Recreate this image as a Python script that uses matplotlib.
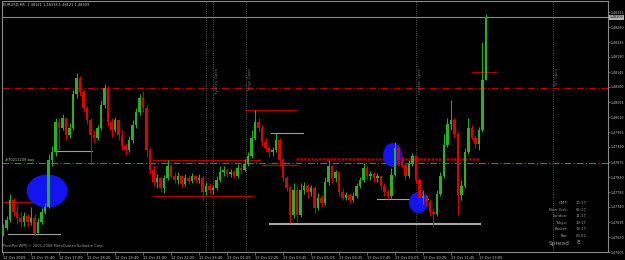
import numpy as np
import matplotlib.pyplot as plt
from matplotlib.patches import Ellipse

# EURUSD - velas (cada vela ~10 min)
apertura_inicial = 1.47656
cierres = [1.47677, 1.47701, 1.47761, 1.47725, 1.47707, 1.47695, 1.47713, 1.47695, 1.47707, 1.47662,
           1.47695, 1.47725, 1.47740, 1.47881, 1.47905, 1.47995, 1.47977, 1.48007, 1.47956, 1.47977,
           1.48079, 1.48127, 1.48085, 1.48037, 1.48001, 1.47956, 1.47947, 1.47977, 1.48046, 1.48097,
           1.47995, 1.47971, 1.48001, 1.47956, 1.47923, 1.47911, 1.47941, 1.47986, 1.48025, 1.48067,
           1.48037, 1.47911, 1.47851, 1.47815, 1.47827, 1.47797, 1.47827, 1.47863, 1.47833, 1.47821,
           1.47833, 1.47809, 1.47827, 1.47818, 1.47833, 1.47821, 1.47827, 1.47785, 1.47803, 1.47791,
           1.47797, 1.47821, 1.47845, 1.47851, 1.47839, 1.47845, 1.47833, 1.47857, 1.47851, 1.47869,
           1.47893, 1.47947, 1.47995, 1.47977, 1.47935, 1.47917, 1.47905, 1.47911, 1.47941, 1.47881,
           1.47827, 1.47797, 1.47716, 1.47791, 1.47716, 1.47791, 1.47803, 1.47785, 1.47797, 1.47737,
           1.47767, 1.47752, 1.47815, 1.47863, 1.47827, 1.47845, 1.47785, 1.47767, 1.47776, 1.47761,
           1.47773, 1.47803, 1.47821, 1.47857, 1.47833, 1.47839, 1.47827, 1.47833, 1.47803, 1.47785,
           1.47773, 1.47836, 1.47917, 1.47881, 1.47866, 1.47833, 1.47869, 1.47893, 1.47821, 1.47767,
           1.47773, 1.47755, 1.47725, 1.47719, 1.47779, 1.47833, 1.47926, 1.47989, 1.48001, 1.47959,
           1.47776, 1.47803, 1.47905, 1.47977, 1.47947, 1.47929, 1.47971, 1.48121, 1.48309]
maximos = [1.47689, 1.47713, 1.47779, 1.47767, 1.47743, 1.47725, 1.47725, 1.47719, 1.47740, 1.47719,
           1.47707, 1.47737, 1.47752, 1.47899, 1.47923, 1.48007, 1.48007, 1.48019, 1.47995, 1.47992,
           1.48091, 1.48142, 1.48133, 1.48091, 1.48043, 1.48007, 1.47971, 1.47986, 1.48061, 1.48109,
           1.48103, 1.48007, 1.48010, 1.48001, 1.47971, 1.47932, 1.47953, 1.48001, 1.48037, 1.48079,
           1.48088, 1.48046, 1.47917, 1.47866, 1.47839, 1.47833, 1.47836, 1.47881, 1.47869, 1.47845,
           1.47845, 1.47836, 1.47839, 1.47836, 1.47842, 1.47836, 1.47839, 1.47836, 1.47815, 1.47812,
           1.47806, 1.47833, 1.47863, 1.47863, 1.47857, 1.47854, 1.47851, 1.47869, 1.47869, 1.47884,
           1.47905, 1.47971, 1.48031, 1.48007, 1.47986, 1.47947, 1.47923, 1.47920, 1.47962, 1.47947,
           1.47887, 1.47833, 1.47803, 1.47812, 1.47803, 1.47812, 1.47815, 1.47809, 1.47806, 1.47803,
           1.47782, 1.47776, 1.47830, 1.47881, 1.47866, 1.47851, 1.47842, 1.47797, 1.47785, 1.47782,
           1.47785, 1.47812, 1.47830, 1.47872, 1.47866, 1.47848, 1.47845, 1.47842, 1.47836, 1.47812,
           1.47794, 1.47857, 1.47935, 1.47926, 1.47893, 1.47872, 1.47881, 1.47902, 1.47896, 1.47827,
           1.47791, 1.47779, 1.47764, 1.47737, 1.47791, 1.47845, 1.47959, 1.48007, 1.48061, 1.48007,
           1.47965, 1.47821, 1.47917, 1.48007, 1.47986, 1.47956, 1.47980, 1.48235, 1.48318]
minimos = [1.47653, 1.47671, 1.47695, 1.47713, 1.47689, 1.47680, 1.47683, 1.47683, 1.47686, 1.47653,
           1.47671, 1.47689, 1.47719, 1.47737, 1.47863, 1.47893, 1.47911, 1.47971, 1.47941, 1.47947,
           1.47971, 1.48067, 1.48073, 1.48025, 1.47989, 1.47866, 1.47932, 1.47941, 1.47971, 1.48037,
           1.47983, 1.47950, 1.47965, 1.47941, 1.47911, 1.47896, 1.47905, 1.47932, 1.47977, 1.48016,
           1.48025, 1.47890, 1.47839, 1.47803, 1.47797, 1.47785, 1.47782, 1.47821, 1.47827, 1.47812,
           1.47809, 1.47800, 1.47803, 1.47809, 1.47812, 1.47812, 1.47812, 1.47761, 1.47776, 1.47779,
           1.47779, 1.47791, 1.47815, 1.47833, 1.47830, 1.47830, 1.47827, 1.47827, 1.47839, 1.47848,
           1.47863, 1.47887, 1.47941, 1.47965, 1.47923, 1.47905, 1.47890, 1.47893, 1.47905, 1.47863,
           1.47818, 1.47788, 1.47692, 1.47707, 1.47695, 1.47710, 1.47779, 1.47767, 1.47773, 1.47722,
           1.47731, 1.47740, 1.47746, 1.47806, 1.47812, 1.47815, 1.47773, 1.47761, 1.47761, 1.47752,
           1.47755, 1.47767, 1.47797, 1.47815, 1.47824, 1.47821, 1.47815, 1.47815, 1.47791, 1.47773,
           1.47764, 1.47767, 1.47833, 1.47863, 1.47857, 1.47821, 1.47827, 1.47863, 1.47812, 1.47755,
           1.47749, 1.47743, 1.47713, 1.47680, 1.47713, 1.47773, 1.47827, 1.47920, 1.47971, 1.47947,
           1.47716, 1.47761, 1.47797, 1.47899, 1.47941, 1.47917, 1.47911, 1.47965, 1.48121]

# Etiquetas de tiempo (una cada 8 velas) y de precio
fechas = ["12 Oct 2009", "12 Oct 15:40", "12 Oct 17:00", "12 Oct 18:20", "12 Oct 19:40",
          "12 Oct 21:00", "12 Oct 22:20", "12 Oct 23:40", "13 Oct 01:05", "13 Oct 02:25",
          "13 Oct 03:45", "13 Oct 05:05", "13 Oct 06:25", "13 Oct 07:45", "13 Oct 09:05",
          "13 Oct 10:25", "13 Oct 11:45", "13 Oct 13:05"]
precios_eje = ["1.48325", "1.48280", "1.48235", "1.48190", "1.48145", "1.48100", "1.48055",
               "1.48010", "1.47965", "1.47920", "1.47875", "1.47830", "1.47785", "1.47740",
               "1.47695", "1.47650", "1.47605"]

# Niveles dibujados: (precio, vela inicial, vela final)
niveles_rojos = [(1.47755, -0.3, 15.7), (1.47881, 42.9, 73.4), (1.47773, 42.9, 71.4),
                 (1.48031, 69.1, 83.7), (1.47866, 74.0, 84.3), (1.48145, 134.0, 141.0)]
niveles_grises = [(1.47659, 1.4, 16.3), (1.47908, 15.1, 25.4), (1.47962, 76.6, 85.7),
                  (1.47764, 106.9, 121.4)]
soporte = (1.47689, 76.3, 136.3)
resistencia = (1.47884, 83.7, 136.0)
linea_roja = 1.48097
linea_entrada = 1.47872
bid = 1.48309

# Sesiones (vela, texto) y circulos (vela, precio, ancho, alto)
separador_dia = 58
sesiones = [(60, "Sydney Open"), (69.4, "Tokyo Open"), (118, "London Open"), (157.1, "NY Open")]
circulos = [(12.6, 1.47788, 11.7, 0.00099), (111.3, 1.47896, 5.4, 0.00072),
            (118.7, 1.477535, 5.4, 0.00063)]

horas = [("GMT:", "10:17"), ("New York:", "06:17"), ("London:", "11:17"),
         ("Tokyo:", "19:17"), ("Broker:", "13:17"), ("Bar:", "00:02")]

verde = "#22b422"
rojo = "#e00000"
texto = "#c8c8c8"

fig = plt.figure(figsize=(6.25, 2.6), dpi=100, facecolor="black")
ax = fig.add_axes([2 / 625, 1 - 252 / 260, 606 / 625, 251 / 260], facecolor="black")

c = np.array(cierres)
o = np.array([apertura_inicial] + cierres[:-1])
h = np.array(maximos)
l = np.array(minimos)
x = np.arange(len(c))
colores = np.where(c >= o, verde, rojo)

# Velas
ax.vlines(x, np.minimum(l, np.minimum(o, c)), np.maximum(h, np.maximum(o, c)),
          colors=colores, lw=0.7, zorder=4)
altura = np.maximum(np.abs(c - o), 0.00001)
ax.bar(x, altura, bottom=np.minimum(o, c), width=0.6, color=colores, linewidth=0, zorder=5)

# Circulos azules
for cx, cy, w, hh in circulos:
    ax.add_patch(Ellipse((cx, cy), w, hh, facecolor="#1414f0", edgecolor="none", zorder=3))

# Lineas horizontales
ax.axhline(bid, color="#8a8a8a", lw=0.8, zorder=2)
ax.axhline(linea_roja, color="#c00000", lw=0.8, ls=(0, (6, 2, 1, 2)), zorder=2)
ax.axhline(linea_entrada, color="#1c9a1c", lw=0.8, ls=(0, (6, 2, 1, 2)), zorder=2)
for p, a, b in niveles_rojos:
    ax.plot([a, b], [p, p], color="#b00000", lw=0.9, zorder=2)
for p, a, b in niveles_grises:
    ax.plot([a, b], [p, p], color="#a0a0a0", lw=0.8, zorder=2)
ax.plot([soporte[1], soporte[2]], [soporte[0]] * 2, color="#a8a8a8", lw=1.5, zorder=2)
ax.plot([resistencia[1], resistencia[2]], [resistencia[0]] * 2, color="#b00000",
        lw=1.8, ls=(0, (1, 0.5)), zorder=2)

# Lineas verticales de sesiones
ax.axvline(separador_dia, color="#707070", lw=0.6, ls=":", zorder=1)
for sx, nombre in sesiones:
    ax.axvline(sx, color="#707070", lw=0.6, ls=":", zorder=1)
    ax.text(sx + 0.6, 1.48157, nombre, rotation=90, ha="left", va="top",
            fontsize=2.8, color="#707070")

ax.text(0.5, linea_entrada + 0.00004, "#70211209 buy", fontsize=2.6, color=texto, va="bottom")

# Ejes
ax.set_xlim(-0.29, 172.86)
ax.set_ylim(1.47605, 1.48358)
for s in ax.spines.values():
    s.set_color("#8a8a8a")
    s.set_linewidth(0.8)
ax.yaxis.tick_right()
ax.set_yticks([float(v) for v in precios_eje])
ax.set_yticklabels(precios_eje)
ax.set_xticks(np.arange(len(fechas)) * 8)
ax.set_xticklabels(fechas)
ax.tick_params(colors="#8a8a8a", length=2, width=0.5, pad=1, labelsize=2.6, labelcolor=texto)
ax.tick_params(axis="y", length=1.5, pad=0.6, labelsize=2.3)
for lab in ax.get_xticklabels():
    lab.set_ha("left")

# Precio bid en el eje
ax.text(1.002, bid, "1.48309", transform=ax.get_yaxis_transform(), fontsize=2.3,
        color="black", va="center", ha="left",
        bbox=dict(facecolor="#b0b0b0", edgecolor="none", pad=0.5))

# Textos
fig.text(3 / 625, 1 - 5 / 260, "EURUSD,M5  1.48121 1.48318 1.48121 1.48309",
         fontsize=2.6, color=texto, va="center")
fig.text(3 / 625, 1 - 246 / 260, "PivotPro WPR © 2001-2008 MetaQuotes Software Corp.",
         fontsize=2.6, color="#a0a0a0", va="center")
for k, (nom, val) in enumerate(horas):
    yy = 1 - (203 + 6.6 * k) / 260
    fig.text(568 / 625, yy, nom, fontsize=2.7, color="#a0a0a0", ha="right", va="center")
    fig.text(576 / 625, yy, val, fontsize=2.7, color="#a0a0a0", ha="left", va="center")
fig.text(549 / 625, 1 - 243 / 260, "Spread", fontsize=4.2, color="#a0a0a0", va="center")
fig.text(577 / 625, 1 - 243 / 260, "8", fontsize=4.2, color="#a0a0a0", va="center")

plt.savefig("out.png", dpi=100, facecolor="black")
